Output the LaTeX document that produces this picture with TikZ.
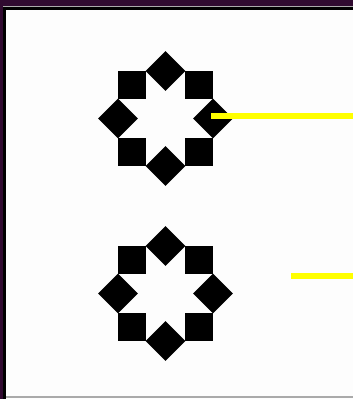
\documentclass[tikz,border=0pt]{standalone}
\usepackage{tikz}
\usetikzlibrary{calc}
\definecolor{framepurple}{RGB}{48,10,48}
\definecolor{framegray}{RGB}{170,170,170}
\definecolor{paper}{RGB}{253,253,253}
\definecolor{marker}{RGB}{255,255,0}
\begin{document}
\begin{tikzpicture}[x=1pt,y=-1pt,
    tile/.style={fill=black,inner sep=0pt,minimum size=28pt},
    markline/.style={draw=marker,line width=5.5pt}]
  \useasboundingbox (0,0) rectangle (353,399);
  % window frame
  \fill[paper] (0,0) rectangle (353,399);
  \fill[framepurple] (0,0) rectangle (353,5.5);
  \fill[framepurple] (0,0) rectangle (2.5,399);
  \fill[framegray] (2.5,5.5) rectangle (353,7);
  \fill[black] (2.5,7) rectangle (353,9.5);
  \fill[black] (2.5,7) rectangle (6,399);
  \fill[framegray] (6,396) rectangle (353,397.5);
  % the two emblems
  \foreach \e/\y in {a/118.5,b/293.5} {
    \coordinate (\e) at (165.5,\y);
    \foreach \k in {0,...,7}
      \node[tile,rotate={45*mod(\k+1,2)}] (\e\k) at ([shift={(45*\k:47.5)}]\e) {};
  }
  % yellow marks
  \coordinate (aend) at (353,116);
  \coordinate (bstart) at (291,276);
  \coordinate (bend) at (353,276);
  \draw[markline] ([xshift=-2pt,yshift=2.5pt]a0.center) -- (aend);
  \draw[markline] (bstart) -- (bend);
\end{tikzpicture}
\end{document}
